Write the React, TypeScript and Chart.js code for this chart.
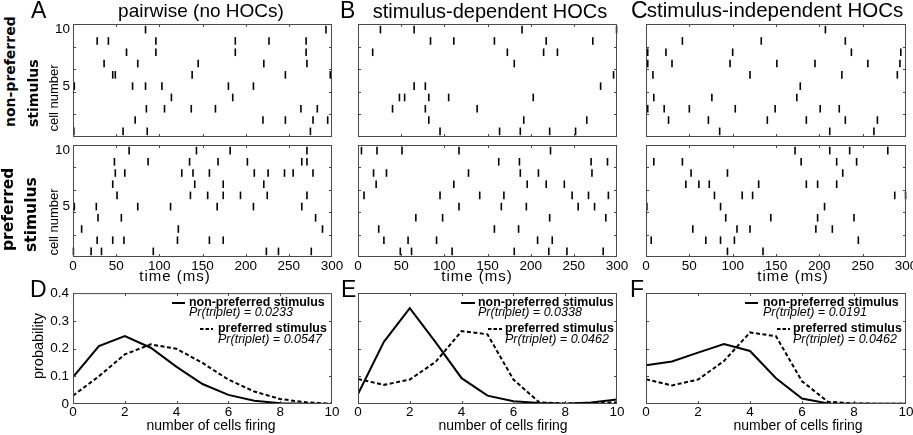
import React, { useEffect, useRef } from 'react';
import { Chart, registerables } from 'chart.js';

Chart.register(...registerables);

const FONT = "'Liberation Sans', Arial, Helvetica, sans-serif";
const ROWFONT = "'DejaVu Sans', Verdana, sans-serif";
const FRAME = '#4a4a4a';

// ---------- axis ticks ----------
const timeTicks = [0, 50, 100, 150, 200, 250, 300];
const timeMarks = [50, 100, 150, 200, 250];
const cellLabelTicks = [5, 10];
const cellMarks = [2.5, 4.5, 6.5, 8.5];
const countTicks = [0, 2, 4, 6, 8, 10];
const countMarks = [2, 4, 6, 8];
const probTicks = [0, 0.1, 0.2, 0.3, 0.4];
const probMarks = [0.1, 0.2, 0.3];

// ---------- texts ----------
const panelTitles = ['pairwise (no HOCs)', 'stimulus-dependent HOCs', 'stimulus-independent HOCs'];
const topLetters = ['A', 'B', 'C'];
const bottomLetters = ['D', 'E', 'F'];
const prTripletNonPref = ['0.0233', '0.0338', '0.0191'];
const prTripletPref = ['0.0547', '0.0462', '0.0462'];

// ---------- spike times (ms); index 0 = cell 1 ----------
const spikesPairwiseNonPref: number[][] = [
  [1, 58, 86, 275],
  [72, 220, 246, 278, 295],
  [85, 106, 137, 165, 264, 283],
  [114, 185],
  [1.5, 69, 84, 103, 180, 209],
  [46, 49, 138, 246, 298],
  [36, 75, 145, 221, 271],
  [62, 96, 188, 270],
  [28, 41, 96, 188, 227, 270],
  [84, 293],
];
const spikesDepNonPref: number[][] = [
  [95, 164, 188, 222, 252],
  [82, 192, 265],
  [40, 78, 138],
  [48, 54, 82, 105, 203],
  [65, 78, 281],
  [296],
  [181],
  [17, 173, 215, 231],
  [84, 111, 158, 218, 272],
  [26, 65, 190, 299.5],
];
const spikesIndepNonPref: number[][] = [
  [85, 212, 263],
  [26, 72, 140, 185, 230, 267],
  [2, 21, 50, 103, 149, 201, 223],
  [9, 76, 174],
  [178],
  [8, 120, 226, 290],
  [2, 30, 97, 151, 195, 256, 293],
  [2, 23, 100, 237, 294],
  [42, 133, 230],
  [207],
];
const spikesPairwisePref: number[][] = [
  [0.5, 21, 33, 93, 224, 238, 276],
  [28, 46, 59, 121, 158, 174],
  [10, 122, 289],
  [29, 56, 281],
  [1.5, 27, 75, 113, 167, 209, 265],
  [51, 136, 156, 174, 194, 225, 271],
  [46, 141, 174, 221],
  [49, 60, 126, 139, 158, 210, 226, 245, 255, 278],
  [48, 87, 135, 168, 202, 265, 271],
  [65, 143, 182, 271],
];
const spikesDepPref: number[][] = [
  [49, 62, 109, 181, 221, 242, 284],
  [30, 58, 91, 208, 225],
  [24, 158, 186],
  [67, 98, 222, 287],
  [117, 166, 195, 255, 274],
  [7, 95, 141, 169, 248, 267, 290],
  [21, 111, 196, 218, 239],
  [18, 33, 128, 188, 209, 271],
  [163, 187, 270, 289],
  [4, 22, 51, 117, 223],
];
const spikesIndepPref: number[][] = [
  [94, 135],
  [6, 69, 86, 102, 245],
  [54, 105, 120, 196, 215],
  [92, 144, 198, 240],
  [1, 86, 206],
  [79, 111, 123, 287, 299.5],
  [46, 61, 73, 130, 185, 198, 220],
  [52, 94, 227],
  [9, 42, 179, 220, 243],
  [172, 212, 235, 279],
];

// ---------- distributions of number of cells firing ----------
const cellsFiring = [0, 1, 2, 3, 4, 5, 6, 7, 8, 9, 10];
const probPairwiseNonPref = [0.097, 0.209, 0.245, 0.203, 0.134, 0.072, 0.033, 0.012, 0.003, 0.001, 0.0];
const probPairwisePref = [0.03, 0.1, 0.179, 0.215, 0.199, 0.148, 0.088, 0.045, 0.018, 0.006, 0.001];
const probDepNonPref = [0.036, 0.224, 0.345, 0.222, 0.093, 0.03, 0.01, 0.004, 0.001, 0.005, 0.016];
const probDepPref = [0.09, 0.069, 0.088, 0.152, 0.263, 0.251, 0.088, 0.006, 0.002, 0.004, 0.006];
const probIndepNonPref = [0.14, 0.153, 0.185, 0.216, 0.191, 0.093, 0.02, 0.002, 0.001, 0.001, 0.001];
const probIndepPref = [0.089, 0.067, 0.088, 0.155, 0.258, 0.244, 0.082, 0.008, 0.002, 0.001, 0.001];

// ---------- layout ----------
const colL = [73, 358, 646];
const colR = [332, 617, 906];
const rowT = [24, 145, 293];
const rowB = [137, 257, 404];
const PL = 45, PT = 12, PR = 24, PB = 24;
const TL = 3;

function framePlugin(xMarks: number[], yMarks: number[]) {
  return {
    id: 'frame',
    afterDatasetsDraw(chart: any) {
      const { ctx, chartArea: a, scales } = chart;
      ctx.save();
      ctx.strokeStyle = FRAME;
      ctx.lineWidth = 1;
      ctx.strokeRect(a.left + 0.5, a.top + 0.5, a.right - a.left - 1, a.bottom - a.top - 1);
      ctx.beginPath();
      for (const v of xMarks) {
        const p = Math.round(scales.x.getPixelForValue(v)) + 0.5;
        ctx.moveTo(p, a.bottom); ctx.lineTo(p, a.bottom - TL);
        ctx.moveTo(p, a.top); ctx.lineTo(p, a.top + TL);
      }
      for (const v of yMarks) {
        const p = Math.round(scales.y.getPixelForValue(v)) + 0.5;
        ctx.moveTo(a.left, p); ctx.lineTo(a.left + TL, p);
        ctx.moveTo(a.right, p); ctx.lineTo(a.right - TL, p);
      }
      ctx.stroke();
      ctx.restore();
    },
  };
}

function axis(min: number, max: number, ticks: number[], show: boolean, fit: 'w' | 'h', size: number, pad: number, fmt?: (v: number) => string) {
  return {
    type: 'linear',
    min,
    max,
    afterBuildTicks: (s: any) => { s.ticks = ticks.map((v) => ({ value: v })); },
    afterFit: (s: any) => { if (fit === 'w') s.width = size; else s.height = size; },
    ticks: {
      display: show,
      color: '#000',
      font: { family: FONT, size: 13.5 },
      padding: pad,
      maxRotation: 0,
      minRotation: 0,
      autoSkip: false,
      callback: fmt ?? ((v: any) => String(v)),
    },
    grid: { display: false, drawTicks: false },
    border: { display: false },
  } as any;
}

type Box = { l: number; t: number; r: number; b: number };

function ChartBox({ box, make }: { box: Box; make: (c: HTMLCanvasElement) => Chart }) {
  const ref = useRef<HTMLCanvasElement>(null);
  useEffect(() => {
    const ch = make(ref.current!);
    return () => ch.destroy();
  }, []);
  const w = box.r - box.l + PL + PR;
  const h = box.b - box.t + PT + PB;
  return (
    <canvas
      ref={ref}
      width={w}
      height={h}
      style={{ position: 'absolute', left: box.l - PL, top: box.t - PT, width: w, height: h }}
    />
  );
}

function makeRaster(spikes: number[][], showX: boolean, showY: boolean) {
  return (c: HTMLCanvasElement) => {
    const pts: { x: number; y: number }[] = [];
    spikes.forEach((times, i) => times.forEach((t) => pts.push({ x: t, y: i + 1 })));
    return new Chart(c, {
      type: 'scatter',
      data: {
        datasets: [{
          data: pts,
          pointStyle: 'line',
          pointRotation: 90,
          pointRadius: 3.8,
          pointHoverRadius: 3.8,
          pointBorderColor: '#000',
          pointBackgroundColor: '#000',
          pointBorderWidth: 1.6,
          clip: false,
        } as any],
      },
      options: {
        responsive: false,
        animation: false,
        events: [],
        layout: { padding: { left: 0, top: PT, right: PR, bottom: 0 } },
        plugins: { legend: { display: false }, tooltip: { enabled: false } },
        scales: {
          x: axis(0, 300, timeTicks, showX, 'h', PB, 1),
          y: axis(0.5, 10.5, cellLabelTicks, showY, 'w', PL, 3),
        },
      } as any,
      plugins: [framePlugin(timeMarks, cellMarks)],
    });
  };
}

function makeDist(nonPref: number[], pref: number[], showY: boolean) {
  return (c: HTMLCanvasElement) =>
    new Chart(c, {
      type: 'line',
      data: {
        datasets: [
          {
            data: cellsFiring.map((x, i) => ({ x, y: nonPref[i] })),
            borderColor: '#000',
            borderWidth: 2,
            pointRadius: 0,
            tension: 0,
          },
          {
            data: cellsFiring.map((x, i) => ({ x, y: pref[i] })),
            borderColor: '#000',
            borderWidth: 2,
            borderDash: [4, 2.5],
            pointRadius: 0,
            tension: 0,
          },
        ],
      },
      options: {
        responsive: false,
        animation: false,
        events: [],
        layout: { padding: { left: 0, top: PT, right: PR, bottom: 0 } },
        plugins: { legend: { display: false }, tooltip: { enabled: false } },
        scales: {
          x: axis(0, 10, countTicks, true, 'h', PB, 0),
          y: axis(0, 0.4, probTicks, showY, 'w', PL, 4, (v: number) => (v === 0 ? '0' : v.toFixed(1))),
        },
      } as any,
      plugins: [framePlugin(countMarks, probMarks)],
    });
}

// ---------- text helpers ----------
type TxtProps = {
  x: number; y: number; size: number; children: React.ReactNode;
  align?: 'left' | 'center' | 'right'; bold?: boolean; italic?: boolean; family?: string; ls?: number;
};
function Txt({ x, y, size, children, align = 'left', bold, italic, family = FONT, ls }: TxtProps) {
  return (
    <div
      style={{
        position: 'absolute',
        left: x,
        top: y - 0.8465 * size,
        fontSize: size,
        lineHeight: `${size}px`,
        fontFamily: family,
        fontWeight: bold ? 'bold' : 'normal',
        fontStyle: italic ? 'italic' : 'normal',
        whiteSpace: 'nowrap',
        color: '#000',
        letterSpacing: ls,
        transform: align === 'center' ? 'translateX(-50%)' : align === 'right' ? 'translateX(-100%)' : undefined,
      }}
    >
      {children}
    </div>
  );
}
function RotTxt({ bx, y0, size, children, bold, family = FONT }: { bx: number; y0: number; size: number; children: React.ReactNode; bold?: boolean; family?: string }) {
  return (
    <div
      style={{
        position: 'absolute',
        left: bx - 0.8465 * size,
        top: y0,
        fontSize: size,
        lineHeight: `${size}px`,
        fontFamily: family,
        fontWeight: bold ? 'bold' : 'normal',
        whiteSpace: 'nowrap',
        color: '#000',
        transformOrigin: '0 0',
        transform: 'rotate(-90deg)',
      }}
    >
      {children}
    </div>
  );
}
function RotCenter({ cx, cy, size, children }: { cx: number; cy: number; size: number; children: React.ReactNode }) {
  return (
    <div
      style={{
        position: 'absolute',
        left: cx,
        top: cy,
        fontSize: size,
        lineHeight: `${size}px`,
        fontFamily: FONT,
        whiteSpace: 'nowrap',
        color: '#000',
        transform: 'translate(-50%, -50%) rotate(-90deg)',
      }}
    >
      {children}
    </div>
  );
}
function Sample({ x1, x2, y, dashed }: { x1: number; x2: number; y: number; dashed?: boolean }) {
  return (
    <svg style={{ position: 'absolute', left: x1, top: y - 2 }} width={x2 - x1} height={4}>
      <line x1={0} y1={2} x2={x2 - x1} y2={2} stroke="#000" strokeWidth={2} strokeDasharray={dashed ? '3.5 2' : undefined} />
    </svg>
  );
}

const legendPos = [
  { s1: [172, 185], t1: 189, s2: [200, 213], t2: 218 },
  { s1: [461, 475], t1: 478, s2: [488, 502], t2: 505 },
  { s1: [745, 758], t1: 763, s2: [777, 790], t2: 793 },
];
const titleCfg = [
  { cx: 201, size: 19 },
  { cx: 490, size: 20 },
  { cx: 775, size: 20.5 },
];
const letterX = [31, 340, 631];
const letterX2 = [30, 341, 630];
const timeLabelCx = [175, 477, 793];
const countLabelCx = [211, 503, 798];

export default function App() {
  const rasterTop = [spikesPairwiseNonPref, spikesDepNonPref, spikesIndepNonPref];
  const rasterBottom = [spikesPairwisePref, spikesDepPref, spikesIndepPref];
  const distNP = [probPairwiseNonPref, probDepNonPref, probIndepNonPref];
  const distP = [probPairwisePref, probDepPref, probIndepPref];
  return (
    <div style={{ position: 'absolute', left: 0, top: 0, width: 913, height: 435, background: '#fff', overflow: 'hidden' }}>
      {[0, 1, 2].map((c) => (
        <React.Fragment key={c}>
          <ChartBox box={{ l: colL[c], t: rowT[0], r: colR[c], b: rowB[0] }} make={makeRaster(rasterTop[c], false, c === 0)} />
          <ChartBox box={{ l: colL[c], t: rowT[1], r: colR[c], b: rowB[1] }} make={makeRaster(rasterBottom[c], true, c === 0)} />
          <ChartBox box={{ l: colL[c], t: rowT[2], r: colR[c], b: rowB[2] }} make={makeDist(distNP[c], distP[c], c === 0)} />
        </React.Fragment>
      ))}

      {/* panel letters and titles */}
      {[0, 1, 2].map((c) => (
        <React.Fragment key={'t' + c}>
          <Txt x={letterX[c]} y={18} size={23}>{topLetters[c]}</Txt>
          <Txt x={titleCfg[c].cx} y={17.5} size={titleCfg[c].size} align="center">{panelTitles[c]}</Txt>
          <Txt x={letterX2[c]} y={297} size={23}>{bottomLetters[c]}</Txt>
          <Txt x={timeLabelCx[c]} y={281} size={15} align="center" ls={1}>time (ms)</Txt>
          <Txt x={countLabelCx[c]} y={430} size={14} align="center">number of cells firing</Txt>
          {/* legend */}
          <Sample x1={legendPos[c].s1[0]} x2={legendPos[c].s1[1]} y={302.7} />
          <Txt x={legendPos[c].t1} y={306} size={12.4} bold>non-preferred stimulus</Txt>
          <Txt x={legendPos[c].t1} y={316.5} size={12.5} italic>{`Pr(triplet) = ${prTripletNonPref[c]}`}</Txt>
          <Sample x1={legendPos[c].s2[0]} x2={legendPos[c].s2[1]} y={329.3} dashed />
          <Txt x={legendPos[c].t2} y={332.5} size={12.4} bold>preferred stimulus</Txt>
          <Txt x={legendPos[c].t2} y={343.5} size={12.5} italic>{`Pr(triplet) = ${prTripletPref[c]}`}</Txt>
        </React.Fragment>
      ))}

      {/* row labels */}
      <RotTxt bx={15} y0={127} size={14} bold family={ROWFONT}>non-preferred</RotTxt>
      <RotTxt bx={37.5} y0={127} size={14} bold family={ROWFONT}>stimulus</RotTxt>
      <RotTxt bx={14} y0={251} size={15.5} bold family={ROWFONT}>preferred</RotTxt>
      <RotTxt bx={37} y0={252} size={15.5} bold family={ROWFONT}>stimulus</RotTxt>

      <RotCenter cx={53} cy={98} size={13}>cell number</RotCenter>
      <RotCenter cx={53} cy={222} size={13}>cell number</RotCenter>
      <RotCenter cx={38} cy={346} size={14.5}>probability</RotCenter>
    </div>
  );
}
